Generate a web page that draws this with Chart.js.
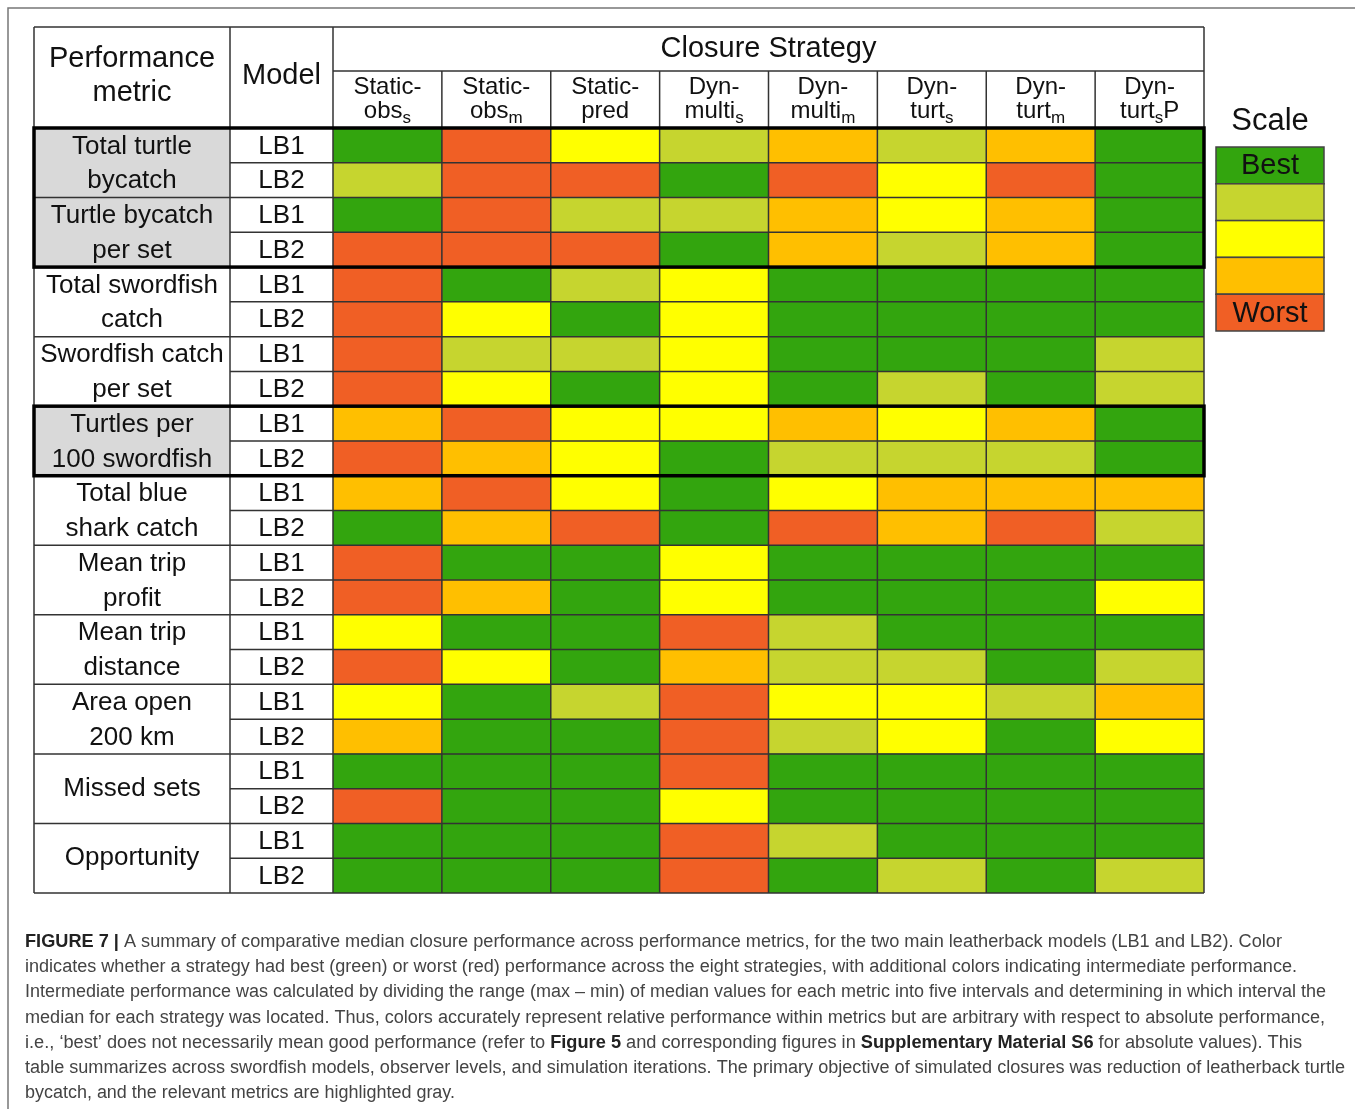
<!DOCTYPE html>
<html>
<head>
<meta charset="utf-8">
<script src="https://cdn.jsdelivr.net/npm/chart.js@4.4.0/dist/chart.umd.min.js"></script>
<style>
  html, body { margin: 0; padding: 0; background: #fff; }
  #wrap { position: relative; width: 1355px; height: 1109px; }
</style>
</head>
<body>
<div id="wrap"><canvas id="summaryTable" width="1355" height="1109"></canvas></div>
<script>
// performance metrics (two-line labels as in the figure) and models
const metrics = [
    ['Total turtle', 'bycatch'],
    ['Turtle bycatch', 'per set'],
    ['Total swordfish', 'catch'],
    ['Swordfish catch', 'per set'],
    ['Turtles per', '100 swordfish'],
    ['Total blue', 'shark catch'],
    ['Mean trip', 'profit'],
    ['Mean trip', 'distance'],
    ['Area open', '200 km'],
    ['Missed sets'],
    ['Opportunity']
];
const highlighted = [true, true, false, false, true, false, false, false, false, false, false];
const models = ['LB1', 'LB2'];

// closure strategies: first line, second line, subscript, trailing text
const stratTop = ['Static-', 'Static-', 'Static-', 'Dyn-', 'Dyn-', 'Dyn-', 'Dyn-', 'Dyn-'];
const stratBase = ['obs', 'obs', 'pred', 'multi', 'multi', 'turt', 'turt', 'turt'];
const stratSub = ['s', 'm', '', 's', 'm', 's', 'm', 's'];
const stratTail = ['', '', '', '', '', '', '', 'P'];

// 1 = best ... 5 = worst, one value per metric/model row (22 rows)
const staticObsS  = [1,2,1,5, 5,5,5,5, 4,5, 4,1, 5,5, 3,5, 3,4, 1,5, 1,1];
const staticObsM  = [5,5,5,5, 1,3,2,3, 5,4, 5,4, 1,4, 1,3, 1,1, 1,1, 1,1];
const staticPred  = [3,5,2,5, 2,1,2,1, 3,3, 3,5, 1,1, 1,1, 2,1, 1,1, 1,1];
const dynMultiS   = [2,1,2,1, 3,3,3,3, 3,1, 1,1, 3,3, 5,4, 5,5, 5,3, 5,5];
const dynMultiM   = [4,5,4,4, 1,1,1,1, 4,2, 3,5, 1,1, 2,2, 3,2, 1,1, 2,1];
const dynTurtS    = [2,3,3,2, 1,1,1,2, 3,2, 4,4, 1,1, 1,2, 3,3, 1,1, 1,2];
const dynTurtM    = [4,5,4,4, 1,1,1,1, 4,2, 4,5, 1,1, 1,1, 2,1, 1,1, 1,1];
const dynTurtSP   = [1,1,1,1, 1,1,2,2, 1,1, 4,2, 1,3, 1,2, 4,3, 1,1, 1,2];
const columns = [staticObsS, staticObsM, staticPred, dynMultiS, dynMultiM, dynTurtS, dynTurtM, dynTurtSP];

const levelColors = ['#33a50e', '#c6d52f', '#ffff00', '#ffbf00', '#f05f25'];
const scaleLabels = ['Best', '', '', '', 'Worst'];

const rowLabels = metrics.flatMap(m => models.map(md => m.join(' ') + ' ' + md));

const caption = [
    [['FIGURE 7 | ', true], ['A summary of comparative median closure performance across performance metrics, for the two main leatherback models (LB1 and LB2). Color', false]],
    [['indicates whether a strategy had best (green) or worst (red) performance across the eight strategies, with additional colors indicating intermediate performance.', false]],
    [['Intermediate performance was calculated by dividing the range (max \u2013 min) of median values for each metric into five intervals and determining in which interval the', false]],
    [['median for each strategy was located. Thus, colors accurately represent relative performance within metrics but are arbitrary with respect to absolute performance,', false]],
    [['i.e., \u2018best\u2019 does not necessarily mean good performance (refer to ', false], ['Figure 5', true], [' and corresponding figures in ', false], ['Supplementary Material S6', true], [' for absolute values). This', false]],
    [['table summarizes across swordfish models, observer levels, and simulation iterations. The primary objective of simulated closures was reduction of leatherback turtle', false]],
    [['bycatch, and the relevant metrics are highlighted gray.', false]]
];
const captionEnds = [1282, 1297, 1326, 1325, 1302, 1345, 455];

const FONT = '"Liberation Sans", Arial, sans-serif';

function centerText(ctx, text, x, y, size) {
    ctx.font = size + 'px ' + FONT;
    ctx.textAlign = 'center';
    ctx.textBaseline = 'middle';
    ctx.fillText(text, x, y);
}

const tablePlugin = {
    id: 'tablePlugin',
    afterDraw(chart) {
        const { ctx, scales: { x, y } } = chart;
        const n = rowLabels.length;
        const band = (y.bottom - y.top) / n;
        const rowTop = i => y.getPixelForValue(i) - band / 2;
        const rowMid = i => y.getPixelForValue(i);
        const colX = c => x.getPixelForValue(c);
        const L = 34, M = 230, D = colX(0), R = colX(8);
        const H0 = 27, H1 = 71, T = y.top, B = y.bottom;

        ctx.save();

        // gray metric cells
        metrics.forEach((m, i) => {
            if (highlighted[i]) {
                ctx.fillStyle = '#d9d9d9';
                ctx.fillRect(L, rowTop(2 * i), M - L, band * 2);
            }
        });

        // thin grid lines
        ctx.strokeStyle = '#333';
        ctx.lineWidth = 1.5;
        ctx.beginPath();
        for (let i = 1; i < n; i++) {
            const yy = rowTop(i);
            ctx.moveTo(i % 2 === 0 ? L : M, yy);
            ctx.lineTo(R, yy);
        }
        ctx.moveTo(L, H0); ctx.lineTo(R, H0);
        ctx.moveTo(D, H1); ctx.lineTo(R, H1);
        ctx.moveTo(L, T); ctx.lineTo(R, T);
        ctx.moveTo(L, B); ctx.lineTo(R, B);
        [L, M, D, R].forEach(xx => { ctx.moveTo(xx, H0); ctx.lineTo(xx, B); });
        for (let c = 1; c < 8; c++) { ctx.moveTo(colX(c), H1); ctx.lineTo(colX(c), B); }
        ctx.stroke();

        // thick borders around highlighted (turtle) metrics
        ctx.strokeStyle = '#000';
        ctx.lineWidth = 3.5;
        let start = null;
        for (let i = 0; i <= metrics.length; i++) {
            const on = i < metrics.length && highlighted[i];
            if (on && start === null) start = i;
            if (!on && start !== null) {
                ctx.strokeRect(L, rowTop(2 * start), R - L, rowTop(2 * i) - rowTop(2 * start));
                start = null;
            }
        }

        // header text
        ctx.fillStyle = '#111';
        centerText(ctx, 'Performance', (L + M) / 2, 59, 29);
        centerText(ctx, 'metric', (L + M) / 2, 93, 29);
        centerText(ctx, 'Model', (M + D) / 2, 76, 29);
        centerText(ctx, 'Closure Strategy', (D + R) / 2, 49, 29);

        for (let c = 0; c < 8; c++) {
            const cx = (colX(c) + colX(c + 1)) / 2;
            centerText(ctx, stratTop[c], cx, 87, 24);
            ctx.font = '24px ' + FONT;
            const wb = ctx.measureText(stratBase[c]).width;
            const wt = ctx.measureText(stratTail[c]).width;
            ctx.font = '17px ' + FONT;
            const ws = stratSub[c] ? ctx.measureText(stratSub[c]).width : 0;
            let sx = cx - (wb + ws + wt) / 2;
            ctx.textAlign = 'left';
            ctx.textBaseline = 'alphabetic';
            ctx.font = '24px ' + FONT;
            ctx.fillText(stratBase[c], sx, 118);
            ctx.font = '17px ' + FONT;
            ctx.fillText(stratSub[c], sx + wb, 123);
            ctx.font = '24px ' + FONT;
            ctx.fillText(stratTail[c], sx + wb + ws, 118);
        }

        // row labels
        metrics.forEach((m, i) => {
            if (m.length === 2) {
                centerText(ctx, m[0], (L + M) / 2, rowMid(2 * i) + 1, 26);
                centerText(ctx, m[1], (L + M) / 2, rowMid(2 * i + 1) + 1, 26);
            } else {
                centerText(ctx, m[0], (L + M) / 2, rowTop(2 * i + 1), 26);
            }
            models.forEach((md, k) => centerText(ctx, md, (M + D) / 2, rowMid(2 * i + k) + 1, 26));
        });

        // scale legend
        centerText(ctx, 'Scale', 1270, 121, 31);
        const sh = (331 - 147) / levelColors.length;
        levelColors.forEach((col, k) => {
            ctx.fillStyle = col;
            ctx.fillRect(1216, 147 + k * sh, 108, sh);
            ctx.strokeStyle = '#444';
            ctx.lineWidth = 1.5;
            ctx.strokeRect(1216, 147 + k * sh, 108, sh);
            if (scaleLabels[k]) {
                ctx.fillStyle = '#111';
                centerText(ctx, scaleLabels[k], 1270, 147 + k * sh + sh / 2 + 1, 29);
            }
        });

        // outer figure frame
        ctx.strokeStyle = '#777';
        ctx.lineWidth = 1.5;
        ctx.beginPath();
        ctx.moveTo(8, 1109); ctx.lineTo(8, 8); ctx.lineTo(1355, 8);
        ctx.stroke();

        // caption
        ctx.textAlign = 'left';
        ctx.textBaseline = 'middle';
        caption.forEach((line, li) => {
            let w = 0;
            line.forEach(([t, b]) => {
                ctx.font = (b ? 'bold ' : '') + '18px ' + FONT;
                w += ctx.measureText(t).width;
            });
            const s = (captionEnds[li] - 25) / w;
            ctx.save();
            ctx.translate(25, 942 + li * 25.2);
            ctx.scale(s, 1);
            let xx = 0;
            line.forEach(([t, b]) => {
                ctx.font = (b ? 'bold ' : '') + '18px ' + FONT;
                ctx.fillStyle = b ? '#222' : '#444';
                ctx.fillText(t, xx, 0);
                xx += ctx.measureText(t).width;
            });
            ctx.restore();
        });

        ctx.restore();
    }
};

const ctx = document.getElementById('summaryTable').getContext('2d');
new Chart(ctx, {
    type: 'bar',
    data: {
        labels: rowLabels,
        datasets: columns.map((col, c) => ({
            label: stratTop[c] + stratBase[c] + stratSub[c] + stratTail[c],
            data: col.map(() => 1),
            backgroundColor: col.map(v => levelColors[v - 1]),
            borderWidth: 0,
            barPercentage: 1,
            categoryPercentage: 1
        }))
    },
    options: {
        indexAxis: 'y',
        responsive: false,
        animation: false,
        layout: { padding: { left: 333, right: 151, top: 128, bottom: 216 } },
        scales: {
            x: { stacked: true, min: 0, max: 8, display: false },
            y: { stacked: true, display: false }
        },
        plugins: { legend: { display: false }, tooltip: { enabled: false } }
    },
    plugins: [tablePlugin]
});
</script>
</body>
</html>
